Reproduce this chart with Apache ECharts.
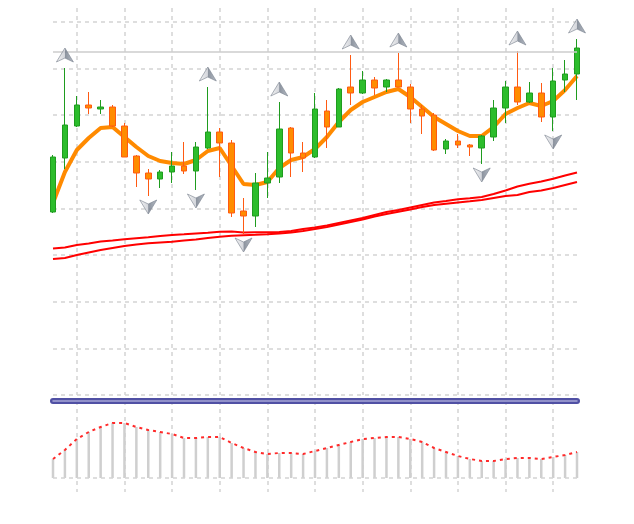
<!DOCTYPE html>
<html><head><meta charset="utf-8">
<script src="https://cdn.jsdelivr.net/npm/echarts@6/dist/echarts.min.js"></script>
<style>html,body{margin:0;padding:0;background:#fff}#c{width:634px;height:524px}</style>
</head><body><div id="c"></div>
<script>
// Bar numbers (categories)
const bars = ['1','2','3','4','5','6','7','8','9','10','11','12','13','14','15','16','17','18','19','20','21','22','23','24','25','26','27','28','29','30','31','32','33','34','35','36','37','38','39','40','41','42','43','44','45'];
// OHLC (price units)
const opens  = [183,237,269,290,286,288,269,239,222,216,223,229,224,247,263,252,184,179,212,218,267,242,238,284,268,308,302,315,308,315,308,286,280,246,254,250,247,258,287,308,293,302,278,315,321];
const closes = [238,270,290,287,288,269,238,222,216,223,229,224,248,263,252,182,179,212,217,266,242,237,286,268,306,302,315,307,315,308,286,279,245,254,250,248,259,287,308,293,302,278,314,321,347];
const lows   = [182,226,268,281,281,268,238,208,199,207,212,221,205,246,218,178,161,168,197,212,218,223,237,247,268,290,301,300,303,308,272,261,244,241,247,239,231,254,272,290,292,273,264,303,295];
const highs  = [240,327,299,303,295,290,272,240,226,225,243,253,253,308,267,255,197,222,243,293,268,253,302,295,307,340,324,318,316,342,311,290,282,256,261,251,260,295,314,344,313,312,327,335,356];
// Fast moving average (orange)
const ema = [192,223,245,257,267,268,258,248,239,234,232,231,235,244,247,229,211,210,213,227,235,238,246,258,273,285,293,298,303,306,298,288,278,271,264,259,259,268,281,287,292,289,294,305,319];
// Slow moving averages (red)
const maSlow1 = [146.5,147.5,150,151.5,153.5,154.5,155.7,156.7,157.7,159,160,160.7,161.5,162.2,163.3,163.5,162.5,162.7,162.7,163,164,166,167.5,169.5,172,174.5,177,180,183,185,187.5,190,192.5,194,195.7,196.7,198,201,204.5,208.5,211.3,213.5,216.2,219.5,222.5];
const maSlow2 = [136,137,140,142.5,145,147,149,150.5,151.7,152.5,153.3,154.5,155.5,157,158.3,159.2,159.8,160.2,160.7,161.5,162.5,164,166,168,170.5,173,175.5,178.5,181,183.3,185.5,188,190,191.3,192.5,193.7,195,197,199,200,203,204.5,207,210,213];
// Horizontal level
const levelLines = [343];
// Fractal bars
const upFractals = [1,13,19,25,29,39,44];
const downFractals = [8,12,16,36,42];
// Oscillator (bottom panel)
const oscValues = [19,28,39,46,51,55,55,51,48,46,44,40,40,41,41,35,30,26,24,25,25,24,27,30,33,36,39,40,41,41,39,36,30,26,22,19,17,17,19,20,20,19,21,23,26];

const candleData = opens.map((o, i) => [o, closes[i], lows[i], highs[i]]);
const upData = upFractals.map(i => [i, highs[i]]);
const downData = downFractals.map(i => [i, lows[i]]);

const gridDash = {color: '#d3d3d3', type: [4, 4], width: 1.5};
const vSplit = {show: true, interval: (i) => i % 4 === 2, lineStyle: gridDash};
const arrowFill = {type: 'linear', x: 0, y: 0, x2: 1, y2: 0, colorStops: [
  {offset: 0, color: '#f2f2f2'}, {offset: 0.48, color: '#c9ccd3'},
  {offset: 0.52, color: '#6f7886'}, {offset: 1, color: '#a3abb7'}]};

const chart = echarts.init(document.getElementById('c'));
chart.setOption({
  animation: false,
  backgroundColor: '#ffffff',
  grid: [
    {left: 53, right: 57, top: 8, height: 387},
    {left: 53, right: 57, top: 401, height: 91}
  ],
  xAxis: [
    {type: 'category', gridIndex: 0, data: bars, boundaryGap: false,
     axisLine: {show: false}, axisTick: {show: false}, axisLabel: {show: false}, splitLine: vSplit},
    {type: 'category', gridIndex: 1, data: bars, boundaryGap: false, position: 'top',
     axisLine: {show: true, onZero: false, lineStyle: {color: '#5050a4', width: 6}},
     axisTick: {show: false}, axisLabel: {show: false}, splitLine: vSplit},
    {type: 'category', gridIndex: 1, data: bars, boundaryGap: false, position: 'top',
     axisLine: {show: true, onZero: false, lineStyle: {color: '#a6a6d6', width: 1.5}},
     axisTick: {show: false}, axisLabel: {show: false}, splitLine: {show: false}}
  ],
  yAxis: [
    {type: 'value', gridIndex: 0, min: 0, max: 387, interval: 46.65,
     axisLine: {show: false}, axisTick: {show: false}, axisLabel: {show: false},
     splitLine: {show: true, showMaxLine: false, lineStyle: gridDash}},
    {type: 'value', gridIndex: 1, min: -14, max: 77,
     axisLine: {show: false}, axisTick: {show: false}, axisLabel: {show: false}, splitLine: {show: false}}
  ],
  series: [
    {type: 'line', xAxisIndex: 0, yAxisIndex: 0, data: maSlow1, symbol: 'none', z: 2,
     lineStyle: {color: '#ff0000', width: 2}},
    {type: 'line', xAxisIndex: 0, yAxisIndex: 0, data: maSlow2, symbol: 'none', z: 2,
     lineStyle: {color: '#ff0000', width: 2}},
    {type: 'line', xAxisIndex: 0, yAxisIndex: 0, data: ema, symbol: 'none', z: 3,
     lineStyle: {color: '#ff8a00', width: 4}},
    {type: 'candlestick', xAxisIndex: 0, yAxisIndex: 0, data: candleData, barWidth: 6, z: 4,
     itemStyle: {color: '#2cbd2c', color0: '#ff8c00', borderColor: '#1f9c1f', borderColor0: '#ff5a12', borderWidth: 1},
     markLine: {silent: true, symbol: ['none', 'none'], label: {show: false},
       lineStyle: {color: '#cccccc', type: 'solid', width: 1.5},
       data: levelLines.map(v => ({yAxis: v}))}},
    {type: 'scatter', xAxisIndex: 0, yAxisIndex: 0, data: upData, z: 5,
     symbol: 'path://M0,0 L9,14 L0,10 L-9,14 Z', symbolSize: [17, 14], symbolOffset: [0, -13],
     itemStyle: {color: arrowFill, borderColor: '#7d8592', borderWidth: 0.8}},
    {type: 'scatter', xAxisIndex: 0, yAxisIndex: 0, data: downData, z: 5,
     symbol: 'path://M0,14 L9,0 L0,4 L-9,0 Z', symbolSize: [17, 14], symbolOffset: [0, 11],
     itemStyle: {color: arrowFill, borderColor: '#7d8592', borderWidth: 0.8}},
    {type: 'bar', xAxisIndex: 1, yAxisIndex: 1, data: oscValues, barWidth: 2.5,
     itemStyle: {color: '#cfcfcf'},
     markLine: {silent: true, symbol: ['none', 'none'], label: {show: false},
       lineStyle: gridDash, data: [{yAxis: 0}]}},
    {type: 'line', xAxisIndex: 1, yAxisIndex: 1, data: oscValues, symbol: 'none', z: 3,
     lineStyle: {color: '#ff2a2a', width: 2, type: [3, 4]}}
  ]
});
</script>
</body></html>
